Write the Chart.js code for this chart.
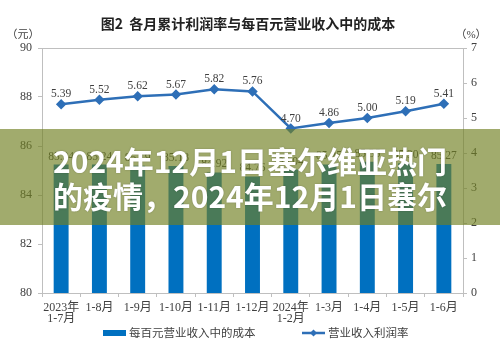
<!DOCTYPE html>
<html>
<head>
<meta charset="utf-8">
<script src="https://cdn.jsdelivr.net/npm/chart.js@4/dist/chart.umd.min.js"></script>
<style>
  html, body { margin: 0; padding: 0; background: #fff; }
  #wrap { position: relative; width: 500px; height: 354px; overflow: hidden; }
  #c { display: block; }
  #banner {
    position: absolute; left: 0; top: 129px; width: 500px; height: 96px;
    background: rgba(112, 128, 33, 0.66);
    box-sizing: border-box; padding: 14px 0 0 53px;
    color: #fff; font: bold 30px "Noto Sans CJK SC", sans-serif; line-height: 35px;
    text-shadow: 0 0 2px rgba(0, 0, 0, 0.25);
    white-space: nowrap;
  }
</style>
</head>
<body>
<div id="wrap">
  <canvas id="c" width="500" height="354"></canvas>
  <div id="banner">2024年12月1日塞尔维亚热门<br>的疫情，2024年12月1日塞尔</div>
</div>
<script>
// 資料
const categories = [['2023年', '1-7月'], '1-8月', '1-9月', '1-10月', '1-11月', '1-12月',
  ['2024年', '1-2月'], '1-3月', '1-4月', '1-5月', '1-6月'];
const costPer100 = [85.24, 85.24, 85.19, 85.18, 84.92, 84.76, 85.04, 85.25, 85.36, 85.30, 85.27];
const profitRate = [5.39, 5.52, 5.62, 5.67, 5.82, 5.76, 4.70, 4.86, 5.00, 5.19, 5.41];
const leftMin = 80, leftMax = 90, leftStep = 2;
const rightMin = 0, rightMax = 7, rightStep = 1;

const barColor = '#0070C0';
const lineColor = '#2E6FB7';
const axisColor = '#bfbfbf';
const textColor = '#404040';
const serif = '"Liberation Serif", "Noto Sans CJK SC", serif';
const sans = '"Noto Sans CJK SC", sans-serif';

// 標題、單位、數值標籤、圖例
const decor = {
  id: 'decor',
  afterDraw(chart) {
    const ctx = chart.ctx;
    const a = chart.chartArea;
    ctx.save();
    // 上框線
    ctx.strokeStyle = axisColor;
    ctx.lineWidth = 1;
    ctx.beginPath();
    ctx.moveTo(a.left, a.top + 0.5);
    ctx.lineTo(a.right, a.top + 0.5);
    ctx.stroke();

    ctx.fillStyle = '#222';
    ctx.textAlign = 'center';
    ctx.textBaseline = 'middle';
    ctx.font = 'bold 14px ' + sans;
    ctx.fillText('图2  各月累计利润率与每百元营业收入中的成本', 248, 24);

    ctx.fillStyle = textColor;
    ctx.font = '11px ' + serif;
    ctx.fillText('（元）', 23, 35);
    ctx.fillText('（%）', 471, 35);

    // 數值標籤
    ctx.font = '11.5px ' + serif;
    ctx.textBaseline = 'middle';
    chart.getDatasetMeta(0).data.forEach((el, i) => {
      ctx.fillText(costPer100[i].toFixed(2), el.x, el.y - 8);
    });
    chart.getDatasetMeta(1).data.forEach((el, i) => {
      ctx.fillText(profitRate[i].toFixed(2), el.x, el.y - 10);
    });

    // 圖例
    const ly = 333;
    ctx.fillStyle = barColor;
    ctx.fillRect(103, ly - 3, 23, 6);
    ctx.strokeStyle = lineColor;
    ctx.lineWidth = 2.5;
    ctx.beginPath();
    ctx.moveTo(302, ly);
    ctx.lineTo(325, ly);
    ctx.stroke();
    ctx.fillStyle = lineColor;
    ctx.beginPath();
    ctx.moveTo(313.5, ly - 3.5);
    ctx.lineTo(317, ly);
    ctx.lineTo(313.5, ly + 3.5);
    ctx.lineTo(310, ly);
    ctx.closePath();
    ctx.fill();

    ctx.fillStyle = textColor;
    ctx.textAlign = 'left';
    ctx.font = '11.5px ' + sans;
    ctx.fillText('每百元营业收入中的成本', 129, ly);
    ctx.fillText('营业收入利润率', 328, ly);
    ctx.restore();
  }
};

new Chart(document.getElementById('c'), {
  type: 'bar',
  data: {
    labels: categories,
    datasets: [{
      label: '每百元营业收入中的成本',
      data: costPer100,
      backgroundColor: barColor,
      yAxisID: 'y',
      categoryPercentage: 1,
      barPercentage: 0.39,
      order: 2
    }, {
      type: 'line',
      label: '营业收入利润率',
      data: profitRate,
      yAxisID: 'y1',
      borderColor: lineColor,
      backgroundColor: lineColor,
      borderWidth: 2.5,
      pointStyle: 'rectRot',
      pointRadius: 3.5,
      tension: 0,
      order: 1
    }]
  },
  options: {
    responsive: false,
    animation: false,
    layout: { padding: { top: 48, left: 0, right: 0, bottom: 0 } },
    plugins: { legend: { display: false }, title: { display: false }, tooltip: { enabled: false } },
    scales: {
      x: {
        grid: { display: true, drawOnChartArea: false, drawTicks: true, tickLength: 4, color: axisColor },
        border: { display: true, color: axisColor },
        ticks: { color: textColor, font: { family: serif, size: 12, lineHeight: 0.95 }, padding: 5, maxRotation: 0, autoSkip: false },
        afterFit(s) { s.height = 61; }
      },
      y: {
        position: 'left',
        min: leftMin, max: leftMax,
        grid: { display: true, drawOnChartArea: false, drawTicks: true, tickLength: 4, color: axisColor },
        border: { display: true, color: axisColor },
        ticks: { stepSize: leftStep, color: textColor, font: { family: serif, size: 12 }, padding: 6 },
        afterFit(s) { s.width = 42; }
      },
      y1: {
        position: 'right',
        min: rightMin, max: rightMax,
        grid: { display: true, drawOnChartArea: false, drawTicks: true, tickLength: 4, color: axisColor },
        border: { display: true, color: axisColor },
        ticks: { stepSize: rightStep, color: textColor, font: { family: serif, size: 12 }, padding: 4 },
        afterFit(s) { s.width = 37; }
      }
    }
  },
  plugins: [decor]
});
</script>
</body>
</html>
